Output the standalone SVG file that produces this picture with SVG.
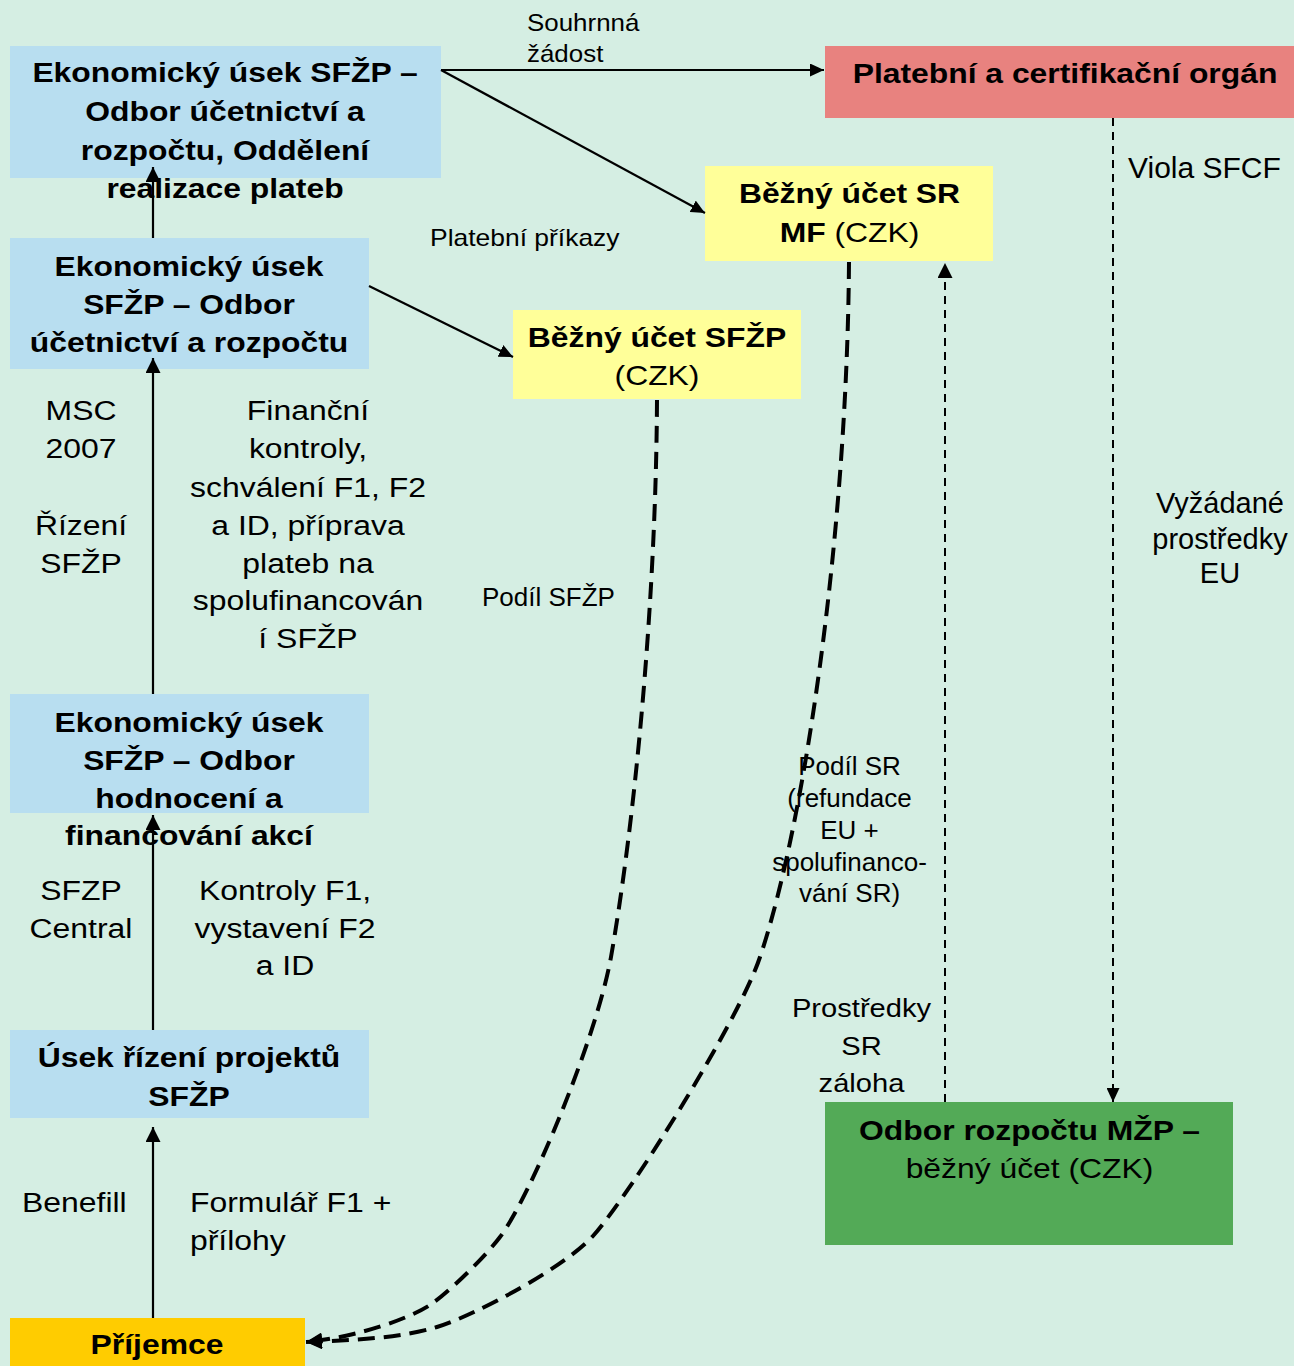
<svg xmlns="http://www.w3.org/2000/svg" width="1294" height="1366" viewBox="0 0 1294 1366">
<defs>
<style>
text{font-family:"Liberation Sans",Arial,sans-serif;fill:#000}
.b{font-size:27px;font-weight:bold}
.n{font-weight:normal}
.r{font-size:28px}
.s26{font-size:26px}
.s24{font-size:24px}
.s23{font-size:23px}
.s29{font-size:29px}
.s30{font-size:30px}
.blue{fill:#B8DEF0}
.yel{fill:#FFFF99}
.ln{stroke:#000;stroke-width:2.2;fill:none}
.thin{stroke:#000;stroke-width:2;fill:none;stroke-dasharray:8 6}
.thick{stroke:#000;stroke-width:4;fill:none;stroke-dasharray:17 9}
</style>
<marker id="ah" viewBox="0 0 15 15" refX="15" refY="7.5" markerWidth="15" markerHeight="15" orient="auto" markerUnits="userSpaceOnUse"><path d="M0,0 L15,7.5 L0,15 z" fill="#000"/></marker>
<marker id="ahs" viewBox="0 0 14 13" refX="14" refY="6.5" markerWidth="14" markerHeight="13" orient="auto" markerUnits="userSpaceOnUse"><path d="M0,0 L14,6.5 L0,13 z" fill="#000"/></marker>
<marker id="ahb" viewBox="0 0 16 16" refX="16" refY="8" markerWidth="16" markerHeight="16" orient="auto" markerUnits="userSpaceOnUse"><path d="M0,0 L16,8 L0,16 z" fill="#000"/></marker>
</defs>
<rect width="1294" height="1366" fill="#D5EEE3"/>

<g id="n-realizace-plateb">
<rect class="blue" x="10" y="46" width="431" height="132"/>
<text class="b" text-anchor="middle" transform="translate(225,0) scale(1.18,1)"><tspan x="0" y="82">Ekonomický úsek SFŽP –</tspan><tspan x="0" y="121">Odbor účetnictví a</tspan><tspan x="0" y="160">rozpočtu, Oddělení</tspan><tspan x="0" y="198">realizace plateb</tspan></text>
</g>
<g id="n-ucetnictvi">
<rect class="blue" x="10" y="238" width="359" height="131"/>
<text class="b" text-anchor="middle" transform="translate(189,0) scale(1.18,1)"><tspan x="0" y="276">Ekonomický úsek</tspan><tspan x="0" y="314">SFŽP – Odbor</tspan><tspan x="0" y="352">účetnictví a rozpočtu</tspan></text>
</g>
<g id="n-hodnoceni">
<rect class="blue" x="10" y="694" width="359" height="119"/>
<text class="b" text-anchor="middle" transform="translate(189,0) scale(1.18,1)"><tspan x="0" y="732">Ekonomický úsek</tspan><tspan x="0" y="770">SFŽP – Odbor</tspan><tspan x="0" y="808">hodnocení a</tspan><tspan x="0" y="845">financování akcí</tspan></text>
</g>
<g id="n-rizeni-projektu">
<rect class="blue" x="10" y="1030" width="359" height="88"/>
<text class="b" text-anchor="middle" transform="translate(189,0) scale(1.18,1)"><tspan x="0" y="1067">Úsek řízení projektů</tspan><tspan x="0" y="1106">SFŽP</tspan></text>
</g>
<g id="n-prijemce">
<rect x="10" y="1318" width="295" height="48" fill="#FFCC00"/>
<text class="b" text-anchor="middle" transform="translate(157,0) scale(1.18,1)"><tspan x="0" y="1354">Příjemce</tspan></text>
</g>
<g id="n-pco">
<rect x="825" y="46" width="469" height="72" fill="#E8827F"/>
<text class="b" text-anchor="middle" transform="translate(1065,0) scale(1.18,1)"><tspan x="0" y="83">Platební a certifikační orgán</tspan></text>
</g>
<g id="n-ucet-sr-mf">
<rect class="yel" x="705" y="166" width="288" height="95"/>
<text class="b" text-anchor="middle" transform="translate(849.5,0) scale(1.18,1)"><tspan x="0" y="203">Běžný účet SR</tspan><tspan x="0" y="242">MF<tspan class="n"> (CZK)</tspan></tspan></text>
</g>
<g id="n-ucet-sfzp">
<rect class="yel" x="513" y="310" width="288" height="89"/>
<text class="b" text-anchor="middle" transform="translate(657,0) scale(1.18,1)"><tspan x="0" y="347">Běžný účet SFŽP</tspan><tspan class="n" x="0" y="385">(CZK)</tspan></text>
</g>
<g id="n-mzp">
<rect x="825" y="1102" width="408" height="143" fill="#53AA57"/>
<text class="b" text-anchor="middle" transform="translate(1029.5,0) scale(1.18,1)"><tspan x="0" y="1140">Odbor rozpočtu MŽP –</tspan><tspan class="n" x="0" y="1178">běžný účet (CZK)</tspan></text>
</g>

<g id="connectors">
<path class="ln" d="M153,238 L153,167" marker-end="url(#ah)"/>
<path class="ln" d="M153,694 L153,358" marker-end="url(#ah)"/>
<path class="ln" d="M153,1030 L153,815" marker-end="url(#ah)"/>
<path class="ln" d="M153,1318 L153,1127" marker-end="url(#ah)"/>
<path class="ln" d="M441,70 L824,70" marker-end="url(#ahs)"/>
<path class="ln" d="M441,70 L705,213" marker-end="url(#ahs)"/>
<path class="ln" d="M369,286 L513,357" marker-end="url(#ahs)"/>
<path class="thin" d="M1113,118 L1113,1102" marker-end="url(#ahs)"/>
<path class="thin" d="M945,1102 L945,263" marker-end="url(#ah)"/>
<path class="thick" d="M657,400 C656,600 635,820 611,957 C596,1040 530,1197 500,1237 C485,1257 448,1293 430,1305 C412,1317 360,1337 306,1342" marker-end="url(#ahb)"/>
<path class="thick" d="M849,262 C847,540 803,830 760,957 C740,1018 632,1192 593,1236 C563,1269 472,1316.5 437,1327 C402,1337.5 360,1340 306,1342" marker-end="url(#ahb)"/>
</g>

<g id="labels">
<text class="s24" transform="translate(527,0) scale(1.08,1)"><tspan x="0" y="31">Souhrnná</tspan><tspan x="0" y="62">žádost</tspan></text>
<text class="s23" transform="translate(430,0) scale(1.15,1)"><tspan x="0" y="246">Platební příkazy</tspan></text>
<text class="s30" x="1128" y="178">Viola SFCF</text>
<text class="s29" text-anchor="middle"><tspan x="1220" y="513">Vyžádané</tspan><tspan x="1220" y="549">prostředky</tspan><tspan x="1220" y="583">EU</tspan></text>
<text class="r" text-anchor="middle" transform="translate(81,0) scale(1.14,1)"><tspan x="0" y="420">MSC</tspan><tspan x="0" y="458">2007</tspan><tspan x="0" y="535">Řízení</tspan><tspan x="0" y="573">SFŽP</tspan></text>
<text class="r" text-anchor="middle" transform="translate(308,0) scale(1.14,1)"><tspan x="0" y="420">Finanční</tspan><tspan x="0" y="458">kontroly,</tspan><tspan x="0" y="497">schválení F1, F2</tspan><tspan x="0" y="535">a ID, příprava</tspan><tspan x="0" y="573">plateb na</tspan><tspan x="0" y="610">spolufinancován</tspan><tspan x="0" y="648">í SFŽP</tspan></text>
<text class="s26" x="482" y="606">Podíl SFŽP</text>
<text class="s26" text-anchor="middle"><tspan x="849.5" y="775">Podíl SR</tspan><tspan x="849.5" y="807">(refundace</tspan><tspan x="849.5" y="839">EU +</tspan><tspan x="849.5" y="871">spolufinanco-</tspan><tspan x="849.5" y="902">vání SR)</tspan></text>
<text class="r" text-anchor="middle" transform="translate(81,0) scale(1.14,1)"><tspan x="0" y="900">SFZP</tspan><tspan x="0" y="938">Central</tspan></text>
<text class="r" text-anchor="middle" transform="translate(285,0) scale(1.14,1)"><tspan x="0" y="900">Kontroly F1,</tspan><tspan x="0" y="938">vystavení F2</tspan><tspan x="0" y="975">a ID</tspan></text>
<text class="s26" text-anchor="middle" transform="translate(861.5,0) scale(1.12,1)"><tspan x="0" y="1017">Prostředky</tspan><tspan x="0" y="1055">SR</tspan><tspan x="0" y="1092">záloha</tspan></text>
<text class="r" transform="translate(22,0) scale(1.14,1)"><tspan x="0" y="1212">Benefill</tspan></text>
<text class="r" transform="translate(190,0) scale(1.14,1)"><tspan x="0" y="1212">Formulář F1 +</tspan><tspan x="0" y="1250">přílohy</tspan></text>
</g>
</svg>
